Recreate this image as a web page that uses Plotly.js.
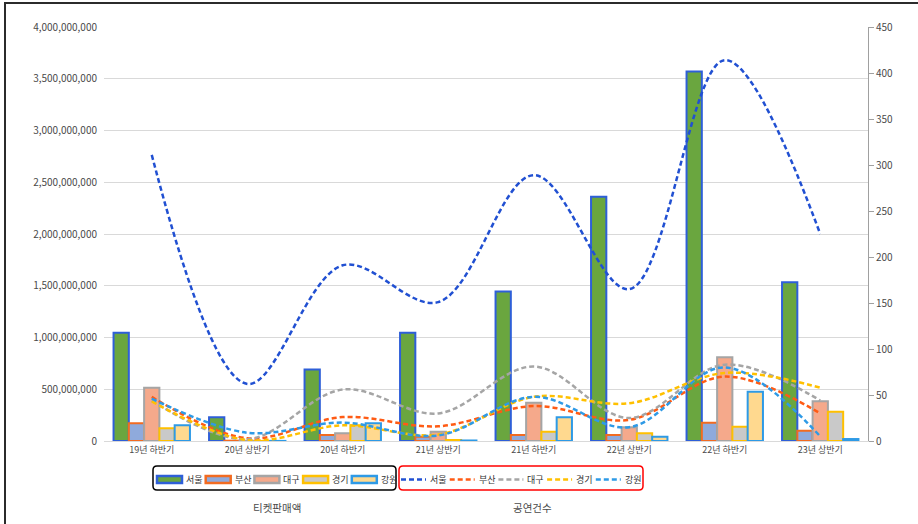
<!DOCTYPE html>
<html>
<head>
<meta charset="utf-8">
<script src="https://cdn.plot.ly/plotly-3.0.1.min.js"></script>
<style>
  html, body { margin: 0; padding: 0; background: #ffffff; }
  #wrap { position: relative; width: 918px; height: 524px; overflow: hidden; }
  #chart { position: absolute; left: 0; top: 0; width: 918px; height: 524px; }
  .bl { position: absolute; left: 4px; top: 2px; width: 1.5px; height: 522px; background: #2b2b2b; }
  .bt { position: absolute; left: 4px; top: 2px; width: 914px; height: 1.5px; background: #2b2b2b; }
</style>
</head>
<body>
<div id="wrap">
  <div id="chart"></div>
  <div class="bl"></div>
  <div class="bt"></div>
</div>
<script>
// ---- data ----
const categories = ['19년 하반기', '20년 상반기', '20년 하반기', '21년 상반기', '21년 하반기', '22년 상반기', '22년 하반기', '23년 상반기'];
const regions = ['서울', '부산', '대구', '경기', '강원'];

// 티켓판매액 (left axis)
const salesSeoul   = [1045000000, 230000000, 690000000, 1045000000, 1445000000, 2360000000, 3570000000, 1535000000];
const salesBusan   = [172000000, 3000000, 58000000, 40000000, 58000000, 58000000, 177000000, 100000000];
const salesDaegu   = [515000000, 2000000, 74000000, 90000000, 370000000, 132000000, 808000000, 385000000];
const salesGyeonggi= [122000000, 1000000, 152000000, 10000000, 90000000, 74000000, 138000000, 283000000];
const salesGangwon = [152000000, 1000000, 171000000, 5000000, 229000000, 42000000, 476000000, 19000000];

// 공연건수 (right axis)
const countSeoul   = [311, 62, 191, 151, 289, 165, 414, 225];
const countBusan   = [48, 3, 26, 16, 38, 23, 70, 30];
const countDaegu   = [44, 2, 56, 30, 81, 25, 83, 44];
const countGyeonggi= [43, 1, 17, 7, 48, 41, 74, 58];
const countGangwon = [46, 9, 20, 6, 48, 15, 80, 5];

const salesTitle = '티켓판매액';
const countTitle = '공연건수';

// ---- styles ----
const salesData = [salesSeoul, salesBusan, salesDaegu, salesGyeonggi, salesGangwon];
const countData = [countSeoul, countBusan, countDaegu, countGyeonggi, countGangwon];
const barFill   = ['#6AA63F', '#8FAADC', '#F5A98B', '#C9C9C9', '#FFD98F'];
const barLine   = ['#2E5FD8', '#F26B21', '#A5A5A5', '#FFC000', '#2E9AE6'];
const lineColor = ['#2150D2', '#FF5B14', '#A5A5A5', '#FFC000', '#2E9AE6'];

const FONT = '"Noto Sans CJK KR", "Noto Sans", sans-serif';
const TXT = '#4A4A4A';

const W = 918, H = 524;
const M = { l: 104, r: 50, t: 27, b: 83 };
const PW = W - M.l - M.r, PH = H - M.t - M.b;
const px = x => (x - M.l) / PW;
const py = y => (H - M.b - y) / PH;

const traces = [];
regions.forEach((name, i) => {
  traces.push({
    type: 'bar', name: name, x: categories, y: salesData[i], yaxis: 'y',
    marker: { color: barFill[i], line: { color: barLine[i], width: 2 } },
    showlegend: false, hoverinfo: 'x+y+name'
  });
});
regions.forEach((name, i) => {
  traces.push({
    type: 'scatter', mode: 'lines', name: name, x: categories, y: countData[i], yaxis: 'y2',
    line: { color: lineColor[i], width: 2.5, dash: '5px,3px', shape: 'spline', smoothing: 1 },
    showlegend: false
  });
});

// ---- manual legend ----
function rr(x0, y0, x1, y1, r) {
  const P = (x, y) => px(x).toFixed(5) + ',' + py(y).toFixed(5);
  return 'M' + P(x0 + r, y0) + ' L' + P(x1 - r, y0) + ' Q' + P(x1, y0) + ' ' + P(x1, y0 + r) +
    ' L' + P(x1, y1 - r) + ' Q' + P(x1, y1) + ' ' + P(x1 - r, y1) +
    ' L' + P(x0 + r, y1) + ' Q' + P(x0, y1) + ' ' + P(x0, y1 - r) +
    ' L' + P(x0, y0 + r) + ' Q' + P(x0, y0) + ' ' + P(x0 + r, y0) + ' Z';
}
const shapes = [];
const annotations = [];
const boxTop = 466, boxBot = 490, midY = 479.5;
shapes.push({ type: 'path', xref: 'paper', yref: 'paper', path: rr(153, boxTop, 396, boxBot, 4), line: { color: '#000000', width: 1.5 } });
shapes.push({ type: 'path', xref: 'paper', yref: 'paper', path: rr(399, boxTop, 643, boxBot, 4), line: { color: '#FF0000', width: 1.5 } });
const step = 48.7;
regions.forEach((name, i) => {
  const x0 = 157 + step * i;
  shapes.push({ type: 'rect', xref: 'paper', yref: 'paper', x0: px(x0), x1: px(x0 + 25), y0: py(midY - 3.5), y1: py(midY + 3.5),
    fillcolor: barFill[i], line: { color: barLine[i], width: 2.5 } });
  annotations.push({ xref: 'paper', yref: 'paper', x: px(x0 + 27), y: py(midY), xanchor: 'left', yanchor: 'middle',
    text: name, showarrow: false, font: { family: FONT, size: 9, color: '#333333' } });
  const lx0 = 401 + step * i;
  shapes.push({ type: 'line', xref: 'paper', yref: 'paper', x0: px(lx0), x1: px(lx0 + 25), y0: py(midY), y1: py(midY),
    line: { color: lineColor[i], width: 2.5, dash: '5px,3px' } });
  annotations.push({ xref: 'paper', yref: 'paper', x: px(lx0 + 27), y: py(midY), xanchor: 'left', yanchor: 'middle',
    text: name, showarrow: false, font: { family: FONT, size: 9, color: '#333333' } });
});
annotations.push({ xref: 'paper', yref: 'paper', x: px(276.5), y: py(507), xanchor: 'center', yanchor: 'middle',
  text: salesTitle, showarrow: false, font: { family: FONT, size: 10.5, color: TXT } });
annotations.push({ xref: 'paper', yref: 'paper', x: px(532.5), y: py(507), xanchor: 'center', yanchor: 'middle',
  text: countTitle, showarrow: false, font: { family: FONT, size: 10.5, color: TXT } });

const layout = {
  width: W, height: H,
  margin: M,
  paper_bgcolor: '#ffffff', plot_bgcolor: '#ffffff',
  font: { family: FONT, color: TXT, size: 10 },
  barmode: 'group', bargap: 0.2, bargroupgap: 0,
  showlegend: false,
  xaxis: {
    type: 'category', showgrid: false, zeroline: false,
    showline: true, linecolor: '#D9D9D9', linewidth: 1,
    ticks: '', tickfont: { family: FONT, size: 9, color: TXT }
  },
  yaxis: {
    range: [0, 4000000000], dtick: 500000000, tick0: 0,
    tickformat: ',d', showgrid: true, gridcolor: '#D9D9D9', gridwidth: 1,
    zeroline: false, showline: false, ticks: '', ticklabelstandoff: 6,
    tickfont: { family: FONT, size: 10, color: TXT }
  },
  yaxis2: {
    overlaying: 'y', side: 'right', range: [0, 450], dtick: 50, tick0: 0,
    showgrid: false, zeroline: false, showline: true, linecolor: '#A0A0A0', linewidth: 1,
    ticks: 'outside', ticklen: 5, tickcolor: '#A0A0A0',
    tickfont: { family: FONT, size: 10, color: TXT }
  },
  shapes: shapes,
  annotations: annotations
};

Plotly.newPlot('chart', traces, layout, { staticPlot: true, displayModeBar: false });
</script>
</body>
</html>
